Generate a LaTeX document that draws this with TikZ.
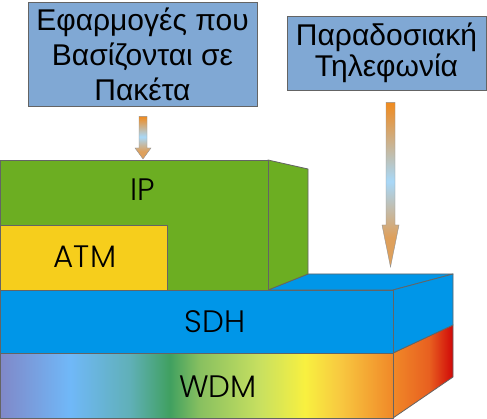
\documentclass[tikz,border=0pt]{standalone}
\usepackage{fontspec}
\setmainfont{Liberation Sans}
\newfontfamily\layerfont{Poppins Light}
\usetikzlibrary{calc}
\definecolor{boxblue}{RGB}{128,168,212}
\definecolor{edgegray}{RGB}{100,100,100}
\definecolor{ipgreen}{RGB}{108,174,34}
\definecolor{atmyellow}{RGB}{246,206,28}
\definecolor{sdhblue}{RGB}{0,150,232}
\definecolor{arrtop}{RGB}{240,138,30}
\definecolor{arrmid}{RGB}{168,216,248}
\definecolor{arrbot}{RGB}{222,160,92}
\definecolor{w0}{RGB}{128,136,200}
\definecolor{w1}{RGB}{112,184,248}
\definecolor{w2}{RGB}{96,176,184}
\definecolor{w3}{RGB}{64,160,96}
\definecolor{w4}{RGB}{136,192,96}
\definecolor{w5}{RGB}{200,224,96}
\definecolor{w6}{RGB}{248,240,64}
\definecolor{w7}{RGB}{248,200,64}
\definecolor{w8}{RGB}{240,136,40}
\definecolor{w9}{RGB}{232,96,32}
\definecolor{w10}{RGB}{208,8,8}
\pgfdeclarehorizontalshading{wdmfront}{100bp}{color(0bp)=(w0); color(25bp)=(w0); color(33.9bp)=(w1); color(41.5bp)=(w2); color(46.6bp)=(w3); color(50.4bp)=(w4); color(58.1bp)=(w5); color(63.8bp)=(w6); color(68.3bp)=(w7); color(75bp)=(w8); color(100bp)=(w8)}
\pgfdeclarehorizontalshading{wdmside}{100bp}{color(0bp)=(w8); color(25bp)=(w8); color(55bp)=(w9); color(75bp)=(w10); color(100bp)=(w10)}
\pgfdeclareverticalshading{arrowshade}{100bp}{color(0bp)=(arrbot); color(25bp)=(arrbot); color(34bp)=(arrbot); color(51bp)=(arrmid); color(75bp)=(arrtop); color(100bp)=(arrtop)}
\tikzset{
  face/.style={draw=edgegray, line width=0.8pt, line join=round},
  infobox/.style={draw=edgegray, fill=boxblue, line width=0.8pt, inner sep=0pt, align=center},
  greekone/.style={font=\fontsize{30}{35}\selectfont},
  greektwo/.style={font=\fontsize{30}{31.5}\selectfont},
  layerlabel/.style={font=\layerfont\fontsize{31}{31}\selectfont, inner sep=0pt},
  blockarrow/.style={draw=edgegray!70, line width=0.4pt, shading=arrowshade}
}
\begin{document}
\begin{tikzpicture}[x=1pt,y=-1pt]
\useasboundingbox (0,0) rectangle (487,419);
\fill[white] (0,0) rectangle (487,419);

% boxes
\node[infobox, greekone, minimum width=229, minimum height=104] (apps) at (142.5,54)
  {Εφαρμογές που\\Βασίζονται σε\\Πακέτα};
\node[infobox, greektwo, minimum width=199, minimum height=74] (tel) at (386.5,53)
  {Παραδοσιακή\\Τηλεφωνία};

% WDM layer
\shade[face, shading=wdmside] (393,353) -- (453,325) -- (453,377) -- (393,418) -- cycle;
\shade[face, shading=wdmfront] (0,353) rectangle (393,418);
\node[layerlabel] (wdm) at (218,387) {WDM};

% SDH layer
\fill[face, fill=sdhblue] (268,290) -- (308,274) -- (453,274) -- (393,290) -- cycle;
\fill[face, fill=sdhblue] (393,290) -- (453,274) -- (453,325) -- (393,353) -- cycle;
\fill[face, fill=sdhblue] (0,290) rectangle (393,353);
\node[layerlabel] (sdh) at (215,322) {SDH};

% IP layer
\fill[face, fill=ipgreen] (268,160) -- (308,169) -- (308,274) -- (268,290) -- cycle;
\fill[face, fill=ipgreen] (0,160) rectangle (268,290);
\node[layerlabel] (ip) at (143,190) {IP};

% ATM
\fill[face, fill=atmyellow] (0,225) rectangle (167,290);
\node[layerlabel] (atm) at (85,257) {ATM};

% arrows
\coordinate (a1top) at ($(apps.south)+(0.5,10)$);
\coordinate (a1tip) at (143,159);
\shade[blockarrow] ($(a1top)+(-4,0)$) -- ($(a1top)+(4,0)$) -- (147,148) -- (151,148) -- (a1tip) -- (135,148) -- (139,148) -- cycle;

\coordinate (a2top) at ($(tel.south)+(4,12)$);
\coordinate (a2tip) at (390.5,267);
\shade[blockarrow] ($(a2top)+(-4.5,0)$) -- ($(a2top)+(4.5,0)$) -- (395,225) -- (399,225) -- (a2tip) -- (382,225) -- (386,225) -- cycle;
\end{tikzpicture}
\end{document}
